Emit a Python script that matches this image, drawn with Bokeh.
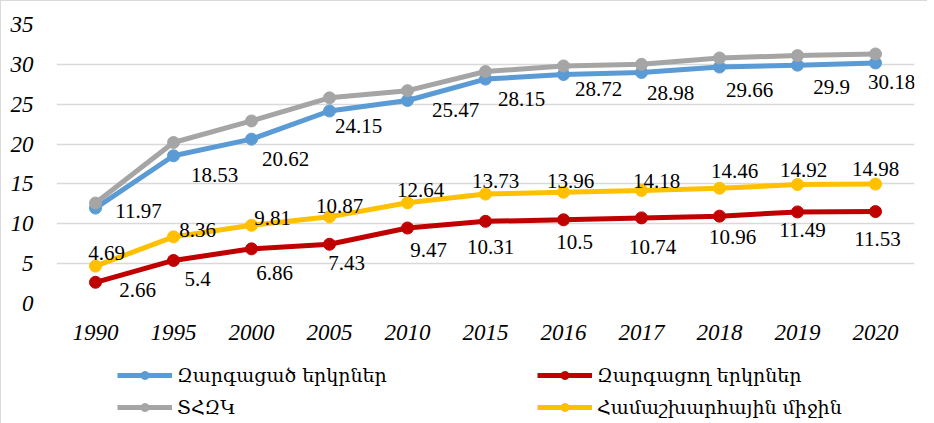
from bokeh.plotting import figure
from bokeh.layouts import column
from bokeh.models import ColumnDataSource, Legend, LegendItem, Range1d, FactorRange, SingleIntervalTicker
from bokeh.core.properties import value
from bokeh.embed import file_html
from bokeh.resources import INLINE

years = ["1990", "1995", "2000", "2005", "2010", "2015", "2016", "2017", "2018", "2019", "2020"]
developed = [11.97, 18.53, 20.62, 24.15, 25.47, 28.15, 28.72, 28.98, 29.66, 29.9, 30.18]
developing = [2.66, 5.4, 6.86, 7.43, 9.47, 10.31, 10.5, 10.74, 10.96, 11.49, 11.53]
ldc = [12.6, 20.2, 22.9, 25.8, 26.7, 29.1, 29.8, 30.0, 30.8, 31.1, 31.3]
world = [4.69, 8.36, 9.81, 10.87, 12.64, 13.73, 13.96, 14.18, 14.46, 14.92, 14.98]

names = ["Զարգացած երկրներ", "Զարգացող երկրներ", "ՏՀԶԿ", "Համաշխարհային միջին"]
colors = ["#5B9BD5", "#C00000", "#A5A5A5", "#FFC000"]

# label offsets (screen px, layout only)
dev_dx = [43, 41, 34, 29, 48, 36, 35, 29, 30, 34, 16]
dev_dy = [3, 19, 20, 15, 10, 20, 14, 21, 23, 22, 19]
dvg_dx = [42, 24, 23, 17, 21, 5, 11, 11, 13, 5, 2]
dvg_dy = [8, 19, 24, 19, 22, 26, 22, 29, 21, 18, 27]
wld_dx = [11, 24, 21, 10, 13, 10, 7, 15, 15, 6, 0]
wld_dy = [-13, -7, -7, -11, -13, -13, -11, -9, -17, -15, -15]

p = figure(width=926, height=350, x_range=FactorRange(*years), y_range=Range1d(0, 35),
           output_backend="svg", toolbar_location=None,
           min_border_left=55, min_border_right=13, min_border_top=23, min_border_bottom=48)
p.outline_line_color = None
p.background_fill_color = "white"
p.border_fill_color = "white"

p.xgrid.grid_line_color = None
p.ygrid.grid_line_color = "#d9d9d9"
p.ygrid.grid_line_width = 1.5
p.yaxis.ticker = SingleIntervalTicker(interval=5)

for ax in (p.xaxis, p.yaxis):
    ax.axis_line_color = None
    ax.major_tick_line_color = None
    ax.minor_tick_line_color = None
    ax.major_label_text_font = "Liberation Serif"
    ax.major_label_text_font_style = "italic"
    ax.major_label_text_font_size = "23px"
    ax.major_label_text_color = "#000000"
p.xaxis.major_label_standoff = 15
p.yaxis.major_label_standoff = 17

series = [developed, developing, ldc, world]
for vals, col in zip(series, colors):
    src = ColumnDataSource(dict(x=years, y=vals))
    p.line("x", "y", source=src, line_color=col, line_width=5)
    p.scatter("x", "y", source=src, size=12, fill_color=col, line_color=col)

label_sets = [(developed, dev_dx, dev_dy), (developing, dvg_dx, dvg_dy), (world, wld_dx, wld_dy)]
for vals, dx, dy in label_sets:
    src = ColumnDataSource(dict(x=years, y=vals, t=[f"{v:g}" for v in vals], dx=dx, dy=dy))
    p.text("x", "y", text="t", source=src, x_offset="dx", y_offset="dy",
           text_align="center", text_baseline="middle",
           text_font=value("Liberation Serif"), text_font_size="21px", text_color="#000000")

# legend panel (separate figure below the chart)
lp = figure(width=926, height=72, x_range=Range1d(0, 1), y_range=Range1d(0, 1),
            x_axis_location=None, y_axis_location=None,
            output_backend="svg", toolbar_location=None,
            min_border=0, min_border_left=0, min_border_right=0, min_border_top=0, min_border_bottom=0)
lp.grid.visible = False
lp.outline_line_color = None
lp.border_fill_color = "white"
lp.background_fill_color = "white"

items = []
for name, col in zip(names, colors):
    # legend-only renderers, placed outside the visible range
    src = ColumnDataSource(dict(x=[-2.0, -1.5], y=[-2.0, -2.0]))
    l = lp.line("x", "y", source=src, line_color=col, line_width=5)
    s = lp.scatter("x", "y", source=src, size=12, fill_color=col, line_color=col)
    items.append(LegendItem(label=name, renderers=[l, s]))

for pair, yloc in ((items[0:2], 37), (items[2:4], 5)):
    lg = Legend(items=pair, orientation="horizontal", location=(61, yloc),
                glyph_width=55, glyph_height=20, label_standoff=5, label_width=350,
                label_height=20, spacing=10, padding=0, margin=0,
                label_text_font="DejaVu Serif", label_text_font_size="19px",
                label_text_color="#000000", border_line_color=None, background_fill_alpha=0)
    lp.add_layout(lg, "center")

layout = column(p, lp, spacing=0)
layout.styles = {"border-left": "1px solid #d9d9d9", "border-top": "1px solid #d9d9d9"}
open("out.html", "w").write(file_html(layout, INLINE))
